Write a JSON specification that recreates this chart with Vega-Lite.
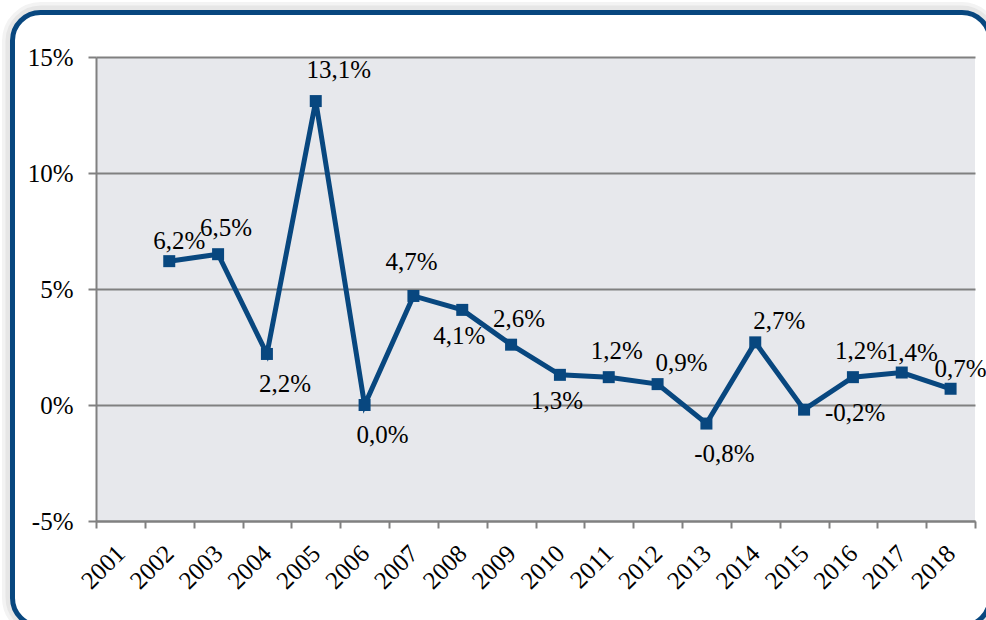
{
  "$schema": "https://vega.github.io/schema/vega-lite/v6.json",
  "width": 879,
  "height": 464,
  "autosize": {"type": "none"},
  "padding": {"left": 96, "top": 57, "right": 11, "bottom": 99},
  "background": "white",
  "config": {
    "locale": {"number": {"decimal": ",", "thousands": ".", "grouping": [3], "currency": ["", " €"], "minus": "-", "percent": "%"}},
    "view": {"fill": "#e7e8ec", "stroke": null},
    "font": "Liberation Serif",
    "axis": {"labelFont": "Liberation Serif", "labelFontSize": 25, "labelColor": "#000000", "title": null},
    "text": {"font": "Liberation Serif", "fontSize": 25, "color": "#000000", "align": "center", "baseline": "middle"}
  },
  "data": {
    "values": [
      {"year": 2002, "growth": 0.062},
      {"year": 2003, "growth": 0.065},
      {"year": 2004, "growth": 0.022},
      {"year": 2005, "growth": 0.131},
      {"year": 2006, "growth": 0.0},
      {"year": 2007, "growth": 0.047},
      {"year": 2008, "growth": 0.041},
      {"year": 2009, "growth": 0.026},
      {"year": 2010, "growth": 0.013},
      {"year": 2011, "growth": 0.012},
      {"year": 2012, "growth": 0.009},
      {"year": 2013, "growth": -0.008},
      {"year": 2014, "growth": 0.027},
      {"year": 2015, "growth": -0.002},
      {"year": 2016, "growth": 0.012},
      {"year": 2017, "growth": 0.014},
      {"year": 2018, "growth": 0.007}
    ]
  },
  "resolve": {"axis": {"x": "independent", "y": "independent"}},
  "layer": [
    {
      "data": {"values": [{}]},
      "mark": {"type": "rect", "fill": "transparent", "stroke": "#f3f3f3", "strokeWidth": 4, "cornerRadius": 37, "clip": false},
      "encoding": {
        "x": {"datum": 1998.616, "type": "quantitative", "scale": {"domain": [2000.5, 2018.5], "nice": false, "zero": false}, "axis": null},
        "x2": {"datum": 2018.98},
        "y": {"datum": 0.17284, "type": "quantitative", "scale": {"domain": [-0.05, 0.15], "nice": false, "zero": false}, "axis": null},
        "y2": {"datum": -0.099}
      }
    },
    {
      "data": {"values": [{}]},
      "mark": {"type": "rect", "fill": "transparent", "stroke": "#e6e6e6", "strokeWidth": 5, "cornerRadius": 33, "clip": false},
      "encoding": {
        "x": {"datum": 1998.698, "type": "quantitative", "scale": {"domain": [2000.5, 2018.5], "nice": false, "zero": false}, "axis": null},
        "x2": {"datum": 2018.899},
        "y": {"datum": 0.17112, "type": "quantitative", "scale": {"domain": [-0.05, 0.15], "nice": false, "zero": false}, "axis": null},
        "y2": {"datum": -0.0972}
      }
    },
    {
      "data": {"values": [{}]},
      "mark": {"type": "rect", "fill": "transparent", "stroke": "#08477f", "strokeWidth": 5, "cornerRadius": 28, "clip": false},
      "encoding": {
        "x": {
          "datum": 1998.79, "type": "quantitative",
          "scale": {"domain": [2000.5, 2018.5], "nice": false, "zero": false},
          "axis": {
            "orient": "bottom",
            "values": [2000.5, 2001.5, 2002.5, 2003.5, 2004.5, 2005.5, 2006.5, 2007.5, 2008.5, 2009.5, 2010.5, 2011.5, 2012.5, 2013.5, 2014.5, 2015.5, 2016.5, 2017.5, 2018.5],
            "labels": false, "ticks": true, "tickSize": 7, "tickWidth": 2, "tickColor": "#808080",
            "domain": true, "domainColor": "#808080", "domainWidth": 2, "grid": false, "title": null
          }
        },
        "x2": {"datum": 2018.807},
        "y": {
          "datum": 0.16918, "type": "quantitative",
          "scale": {"domain": [-0.05, 0.15], "nice": false, "zero": false},
          "axis": null
        },
        "y2": {"datum": -0.09526}
      }
    },
    {
      "encoding": {
        "x": {
          "field": "year", "type": "quantitative",
          "scale": {"domain": [2000.5, 2018.5], "nice": false, "zero": false},
          "axis": {
            "orient": "bottom",
            "values": [2001, 2002, 2003, 2004, 2005, 2006, 2007, 2008, 2009, 2010, 2011, 2012, 2013, 2014, 2015, 2016, 2017, 2018],
            "format": "d", "labelAngle": -45, "labelAlign": "right", "labelBaseline": "middle",
            "ticks": false, "tickSize": 0, "domain": false, "grid": false,
            "labelPadding": 28, "labelFlush": false, "labelOverlap": false, "title": null
          }
        },
        "y": {
          "field": "growth", "type": "quantitative",
          "scale": {"domain": [-0.05, 0.15], "nice": false, "zero": false},
          "axis": {
            "values": [-0.05, 0, 0.05, 0.1, 0.15], "format": ".0%",
            "grid": true, "gridColor": "#808080", "gridWidth": 2,
            "domain": true, "domainColor": "#808080", "domainWidth": 2,
            "ticks": true, "tickSize": 8, "tickWidth": 2, "tickColor": "#808080",
            "labelPadding": 15, "title": null
          }
        }
      },
      "layer": [
        {"mark": {"type": "line", "color": "#08477f", "strokeWidth": 5}},
        {"mark": {"type": "point", "shape": "square", "filled": true, "size": 144, "color": "#08477f", "opacity": 1}},
        {
          "transform": [{"filter": {"field": "year", "oneOf": [2003, 2009, 2011, 2016]}}],
          "mark": {"type": "text", "dx": 8, "dy": -26},
          "encoding": {"text": {"field": "growth", "type": "quantitative", "format": ".1%"}}
        },
        {
          "transform": [{"filter": {"field": "year", "oneOf": [2002, 2017, 2018]}}],
          "mark": {"type": "text", "dx": 10, "dy": -20},
          "encoding": {"text": {"field": "growth", "type": "quantitative", "format": ".1%"}}
        },
        {
          "transform": [{"filter": {"field": "year", "oneOf": [2012, 2014]}}],
          "mark": {"type": "text", "dx": 24, "dy": -21},
          "encoding": {"text": {"field": "growth", "type": "quantitative", "format": ".1%"}}
        },
        {
          "transform": [{"filter": {"field": "year", "oneOf": [2005]}}],
          "mark": {"type": "text", "dx": 23, "dy": -31},
          "encoding": {"text": {"field": "growth", "type": "quantitative", "format": ".1%"}}
        },
        {
          "transform": [{"filter": {"field": "year", "oneOf": [2007]}}],
          "mark": {"type": "text", "dx": -2, "dy": -34},
          "encoding": {"text": {"field": "growth", "type": "quantitative", "format": ".1%"}}
        },
        {
          "transform": [{"filter": {"field": "year", "oneOf": [2004, 2006, 2013]}}],
          "mark": {"type": "text", "dx": 18, "dy": 30},
          "encoding": {"text": {"field": "growth", "type": "quantitative", "format": ".1%"}}
        },
        {
          "transform": [{"filter": {"field": "year", "oneOf": [2008, 2010]}}],
          "mark": {"type": "text", "dx": -3, "dy": 26},
          "encoding": {"text": {"field": "growth", "type": "quantitative", "format": ".1%"}}
        },
        {
          "transform": [{"filter": {"field": "year", "oneOf": [2015]}}],
          "mark": {"type": "text", "dx": 51, "dy": 3},
          "encoding": {"text": {"field": "growth", "type": "quantitative", "format": ".1%"}}
        }
      ]
    }
  ]
}
